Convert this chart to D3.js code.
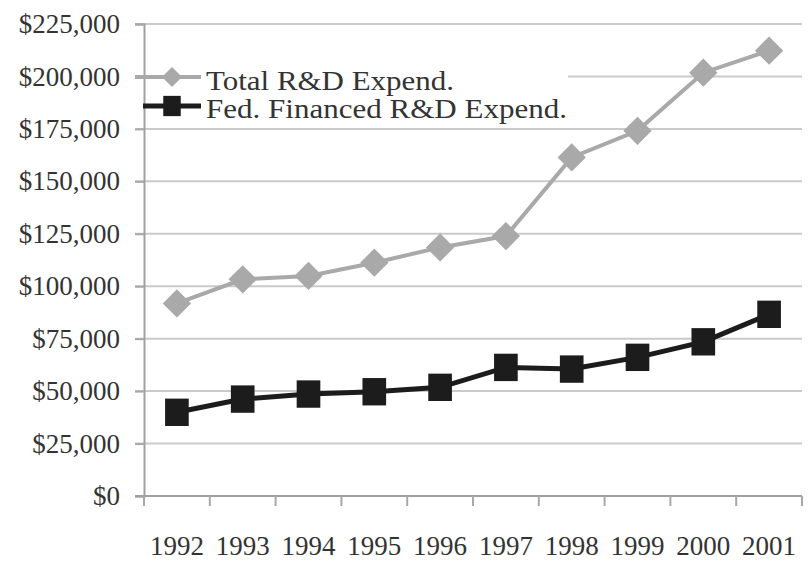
<!DOCTYPE html>
<html>
<head>
<meta charset="utf-8">
<script src="https://cdn.jsdelivr.net/npm/d3@7"></script>
<style>
  body { margin: 0; background: #fff; }
  text { font-family: "Liberation Serif", "DejaVu Serif", serif; fill: #333; }
</style>
</head>
<body>
<svg id="chart" width="810" height="564"></svg>
<script>
// data (millions of dollars)
var years = ["1992", "1993", "1994", "1995", "1996", "1997", "1998", "1999", "2000", "2001"];
var totalRD = [91800, 103300, 104900, 111200, 118500, 123900, 161400, 174100, 201800, 212300];
var fedRD = [39900, 46200, 48600, 49700, 51800, 61300, 60500, 66100, 73500, 86600];
var yTicks = [0, 25000, 50000, 75000, 100000, 125000, 150000, 175000, 200000, 225000];
var seriesNames = ["Total R&D Expend.", "Fed. Financed R&D Expend."];

var svg = d3.select('#chart');

var x = d3.scaleBand().domain(years).range([144, 802]).padding(0);
var y = d3.scaleLinear().domain([0, 225000]).range([496, 24]);
var cx = function(d, i) { return x(years[i]) + x.bandwidth() / 2; };

// gridlines
svg.append('g')
  .selectAll('line')
  .data(yTicks)
  .enter().append('line')
  .attr('x1', 135).attr('x2', 802)
  .attr('y1', function(d) { return y(d); })
  .attr('y2', function(d) { return y(d); })
  .attr('stroke', '#cacaca')
  .attr('stroke-width', 2);

// y axis
var yAxis = d3.axisLeft(y)
  .tickValues(yTicks)
  .tickFormat(d3.format('$,'))
  .tickSize(9)
  .tickPadding(15);

svg.append('g')
  .attr('transform', 'translate(144,0)')
  .call(yAxis)
  .call(function(g) {
    g.select('.domain').attr('stroke', '#a0a0a0').attr('stroke-width', 2);
    g.selectAll('.tick line').attr('stroke', '#a8a8a8').attr('stroke-width', 2);
    g.selectAll('text').style('font-size', '27px').attr('fill', '#333').attr('font-family', null);
  });

// x axis: labels centred, ticks at band edges
var xAxis = d3.axisBottom(x).tickSize(0).tickPadding(40);
svg.append('g')
  .attr('transform', 'translate(0,496)')
  .call(xAxis)
  .call(function(g) {
    g.select('.domain').remove();
    g.selectAll('text').style('font-size', '27px').attr('fill', '#333').attr('font-family', null);
  });

svg.append('line')
  .attr('x1', 135).attr('x2', 802)
  .attr('y1', 496).attr('y2', 496)
  .attr('stroke', '#a0a0a0').attr('stroke-width', 2);

var edges = years.map(function(d) { return x(d); }).concat([x.range()[1]]);
svg.append('g')
  .selectAll('line')
  .data(edges)
  .enter().append('line')
  .attr('x1', function(d) { return d; })
  .attr('x2', function(d) { return d; })
  .attr('y1', 496).attr('y2', 506)
  .attr('stroke', '#a8a8a8').attr('stroke-width', 2);

// legend box hides the gridline behind it
svg.append('rect')
  .attr('x', 146).attr('y', 58)
  .attr('width', 422).attr('height', 64)
  .attr('fill', '#fff');

var line = d3.line()
  .x(cx)
  .y(function(d) { return y(d); });

var diamond = d3.symbol().type(d3.symbolSquare).size(400);
var square = d3.symbol().type(d3.symbolSquare).size(620);

// total series
svg.append('path')
  .datum(totalRD)
  .attr('d', line)
  .attr('fill', 'none')
  .attr('stroke', '#a9a9a9')
  .attr('stroke-width', 4);

svg.append('g')
  .selectAll('path')
  .data(totalRD)
  .enter().append('path')
  .attr('d', diamond)
  .attr('transform', function(d, i) { return 'translate(' + cx(d, i) + ',' + y(d) + ') rotate(45)'; })
  .attr('fill', '#a9a9a9');

// federal series
svg.append('path')
  .datum(fedRD)
  .attr('d', line)
  .attr('fill', 'none')
  .attr('stroke', '#1c1c1c')
  .attr('stroke-width', 5);

svg.append('g')
  .selectAll('path')
  .data(fedRD)
  .enter().append('path')
  .attr('d', square)
  .attr('transform', function(d, i) { return 'translate(' + cx(d, i) + ',' + y(d) + ') scale(0.95,1.1)'; })
  .attr('fill', '#1c1c1c');

// legend
var legend = svg.append('g');
legend.append('line')
  .attr('x1', 135).attr('x2', 201).attr('y1', 77).attr('y2', 77)
  .attr('stroke', '#a9a9a9').attr('stroke-width', 4);
legend.append('path')
  .attr('d', d3.symbol().type(d3.symbolSquare).size(200))
  .attr('transform', 'translate(172,77) rotate(45)')
  .attr('fill', '#a9a9a9');
legend.append('line')
  .attr('x1', 143).attr('x2', 201).attr('y1', 106).attr('y2', 106)
  .attr('stroke', '#1c1c1c').attr('stroke-width', 5);
legend.append('path')
  .attr('d', d3.symbol().type(d3.symbolSquare).size(340))
  .attr('transform', 'translate(172,106) scale(0.95,1.1)')
  .attr('fill', '#1c1c1c');

legend.selectAll('text')
  .data(seriesNames)
  .enter().append('text')
  .attr('x', 206)
  .attr('y', function(d, i) { return 90 + i * 28; })
  .attr('textLength', function(d, i) { return i === 0 ? 248 : 361; })
  .attr('lengthAdjust', 'spacingAndGlyphs')
  .style('font-size', '28px')
  .text(function(d) { return d; });
</script>
</body>
</html>
